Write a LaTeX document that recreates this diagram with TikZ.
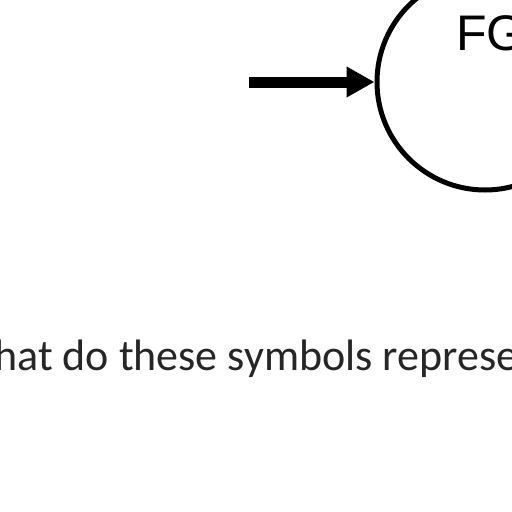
\documentclass[tikz,border=0pt]{standalone}
\usepackage{fontspec}
\setmainfont{Carlito}
\newfontfamily\arialfont{Liberation Sans}
\usetikzlibrary{arrows.meta}
\begin{document}
\begin{tikzpicture}[x=1pt,y=-1pt,
  symcircle/.style={circle,draw=black,line width=5pt,minimum size=216pt,inner sep=0pt},
  bigarrow/.style={line width=11pt,-{Triangle[length=28pt,width=29pt]}},
  caption/.style={anchor=base west,inner sep=0pt,text=black!85,font=\fontsize{44pt}{52pt}\selectfont},
  label/.style={anchor=base west,inner sep=0pt,font=\arialfont\fontsize{50pt}{60pt}\selectfont}]
\useasboundingbox (0,0) rectangle (512,512);
\clip (0,0) rectangle (512,512);
\fill[white] (0,0) rectangle (512,512);
\node[symcircle] (c) at (485,82) {};
\node[label] (fg) at (456,50) {FG};
\coordinate (s) at (249,82);
\draw[bigarrow] (s) -- (c.west);
\node[caption] (q) at (-45,370) {What do these symbols represent?};
\end{tikzpicture}
\end{document}
